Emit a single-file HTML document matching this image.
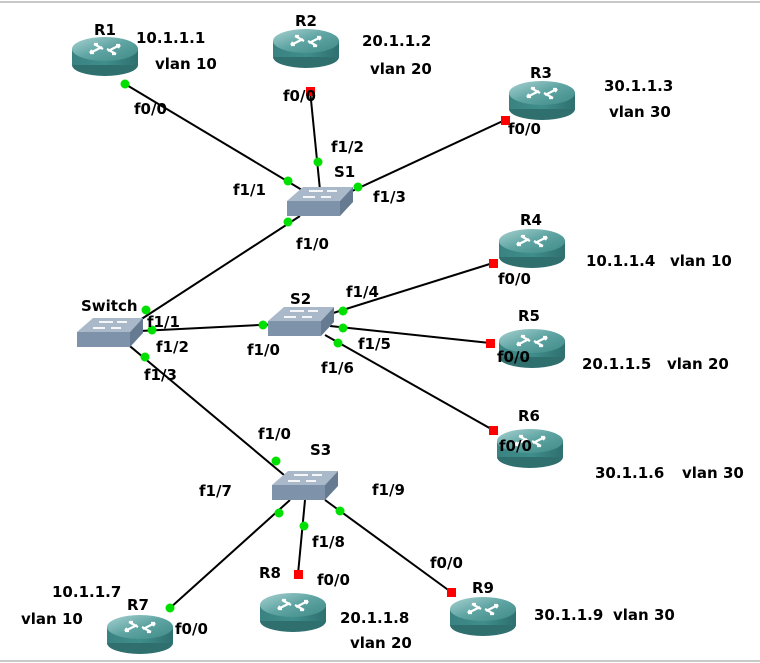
<!DOCTYPE html>
<html><head><style>
body{margin:0;background:#fff;}
svg{display:block;}
text{font-family:"DejaVu Sans","Liberation Sans",sans-serif;font-weight:bold;font-size:15px;fill:#000;}
</style></head><body>
<svg width="760" height="663" viewBox="0 0 760 663" xmlns="http://www.w3.org/2000/svg">
<defs>
<linearGradient id="rb" x1="0" x2="1" y1="0" y2="0">
<stop offset="0" stop-color="#3a8282"/><stop offset="0.5" stop-color="#3f8e8c"/><stop offset="1" stop-color="#2f7070"/></linearGradient>
<linearGradient id="rt" x1="0" x2="1" y1="0" y2="1">
<stop offset="0" stop-color="#a9d2d2"/><stop offset="0.5" stop-color="#5ea4a2"/><stop offset="1" stop-color="#3e8a88"/></linearGradient>
<g id="router">
<ellipse cx="33" cy="29" rx="33" ry="11" fill="#2f6f6e"/>
<rect x="0" y="13" width="66" height="16" fill="url(#rb)"/>
<ellipse cx="33" cy="13" rx="33" ry="12" fill="url(#rt)"/>
<g stroke="#fff" stroke-width="2.2" fill="none">
<path d="M18 17 L30 11 M18 17 l4 0 M18 17 l2 -3"/>
<path d="M48 9 L36 15 M48 9 l-4 0 M48 9 l-2 3"/>
<path d="M22 8 L31 13 M22 8 l4 0"/>
<path d="M44 18 L35 13 M44 18 l-4 0"/>
</g>
</g>
<g id="switch">
<polygon points="16,0 66,0 53,14 0,14" fill="#a9b9ca"/>
<rect x="0" y="14" width="53" height="15" fill="#7e93aa"/>
<polygon points="53,14 66,0 66,15 53,29" fill="#667b92"/>
<g stroke="#fff" stroke-width="1.8" fill="none">
<path d="M22 4 h14 M50 4 h-10 M16 10 h12 M44 10 h-10"/>
</g>
</g>
</defs>
<line x1="0" y1="2" x2="760" y2="2" stroke="#c8c8c8" stroke-width="2"/>
<line x1="0" y1="661" x2="760" y2="661" stroke="#c8c8c8" stroke-width="2"/>
<g stroke="#000" stroke-width="2">
<line x1="125" y1="84" x2="302" y2="190"/>
<line x1="310" y1="90" x2="320" y2="190"/>
<line x1="505" y1="120" x2="350" y2="192"/>
<line x1="300" y1="216" x2="140" y2="320"/>
<line x1="140" y1="331" x2="280" y2="324"/>
<line x1="330" y1="314" x2="493" y2="263"/>
<line x1="330" y1="326" x2="490" y2="343"/>
<line x1="325" y1="335" x2="493" y2="430"/>
<line x1="125" y1="342" x2="290" y2="480"/>
<line x1="290" y1="500" x2="170" y2="608"/>
<line x1="305" y1="500" x2="298" y2="574"/>
<line x1="325" y1="500" x2="451" y2="592"/>
</g>
<use href="#router" x="72" y="36"/>
<use href="#router" x="273" y="28"/>
<use href="#router" x="509" y="80"/>
<use href="#router" x="499" y="228"/>
<use href="#router" x="499" y="328"/>
<use href="#router" x="497" y="428"/>
<use href="#router" x="107" y="614"/>
<use href="#router" x="260" y="592"/>
<use href="#router" x="450" y="596"/>
<use href="#switch" x="287" y="187"/>
<use href="#switch" x="77" y="318"/>
<use href="#switch" x="268" y="307"/>
<use href="#switch" x="272" y="471"/>
<g fill="#00e000">
<circle cx="125" cy="84" r="4.5"/><circle cx="288" cy="181" r="4.5"/><circle cx="318" cy="162" r="4.5"/><circle cx="358" cy="187" r="4.5"/><circle cx="288" cy="222" r="4.5"/><circle cx="146" cy="310" r="4.5"/><circle cx="152" cy="330" r="4.5"/><circle cx="263" cy="325" r="4.5"/><circle cx="343" cy="311" r="4.5"/><circle cx="343" cy="328" r="4.5"/><circle cx="338" cy="343" r="4.5"/><circle cx="145" cy="357" r="4.5"/><circle cx="276" cy="461" r="4.5"/><circle cx="279" cy="513" r="4.5"/><circle cx="304" cy="526" r="4.5"/><circle cx="340" cy="511" r="4.5"/><circle cx="170" cy="608" r="4.5"/>
</g>
<g fill="#f00">
<rect x="306" y="87" width="9" height="9"/><rect x="501" y="116" width="9" height="9"/><rect x="489" y="259" width="9" height="9"/><rect x="486" y="339" width="9" height="9"/><rect x="489" y="426" width="9" height="9"/><rect x="294" y="570" width="9" height="9"/><rect x="447" y="588" width="9" height="9"/>
</g>
<text x="94" y="35">R1</text>
<text x="136" y="43">10.1.1.1</text>
<text x="155" y="69">vlan 10</text>
<text x="134" y="114">f0/0</text>
<text x="295" y="26">R2</text>
<text x="362" y="46">20.1.1.2</text>
<text x="370" y="74">vlan 20</text>
<text x="283" y="101">f0/0</text>
<text x="331" y="152">f1/2</text>
<text x="334" y="177">S1</text>
<text x="233" y="195">f1/1</text>
<text x="373" y="202">f1/3</text>
<text x="296" y="249">f1/0</text>
<text x="530" y="78">R3</text>
<text x="604" y="91">30.1.1.3</text>
<text x="609" y="117">vlan 30</text>
<text x="508" y="134">f0/0</text>
<text x="520" y="225">R4</text>
<text x="586" y="266">10.1.1.4</text>
<text x="670" y="266">vlan 10</text>
<text x="498" y="284">f0/0</text>
<text x="81" y="311">Switch</text>
<text x="147" y="327">f1/1</text>
<text x="156" y="352">f1/2</text>
<text x="144" y="380">f1/3</text>
<text x="290" y="304">S2</text>
<text x="346" y="297">f1/4</text>
<text x="247" y="355">f1/0</text>
<text x="358" y="349">f1/5</text>
<text x="321" y="373">f1/6</text>
<text x="518" y="321">R5</text>
<text x="497" y="362">f0/0</text>
<text x="582" y="369">20.1.1.5</text>
<text x="667" y="369">vlan 20</text>
<text x="518" y="421">R6</text>
<text x="499" y="451">f0/0</text>
<text x="595" y="478">30.1.1.6</text>
<text x="682" y="478">vlan 30</text>
<text x="258" y="439">f1/0</text>
<text x="310" y="455">S3</text>
<text x="199" y="496">f1/7</text>
<text x="372" y="495">f1/9</text>
<text x="312" y="547">f1/8</text>
<text x="430" y="568">f0/0</text>
<text x="259" y="578">R8</text>
<text x="317" y="585">f0/0</text>
<text x="472" y="593">R9</text>
<text x="52" y="597">10.1.1.7</text>
<text x="21" y="624">vlan 10</text>
<text x="127" y="610">R7</text>
<text x="175" y="634">f0/0</text>
<text x="340" y="623">20.1.1.8</text>
<text x="350" y="648">vlan 20</text>
<text x="534" y="620">30.1.1.9</text>
<text x="613" y="620">vlan 30</text>
</svg>
</body></html>
